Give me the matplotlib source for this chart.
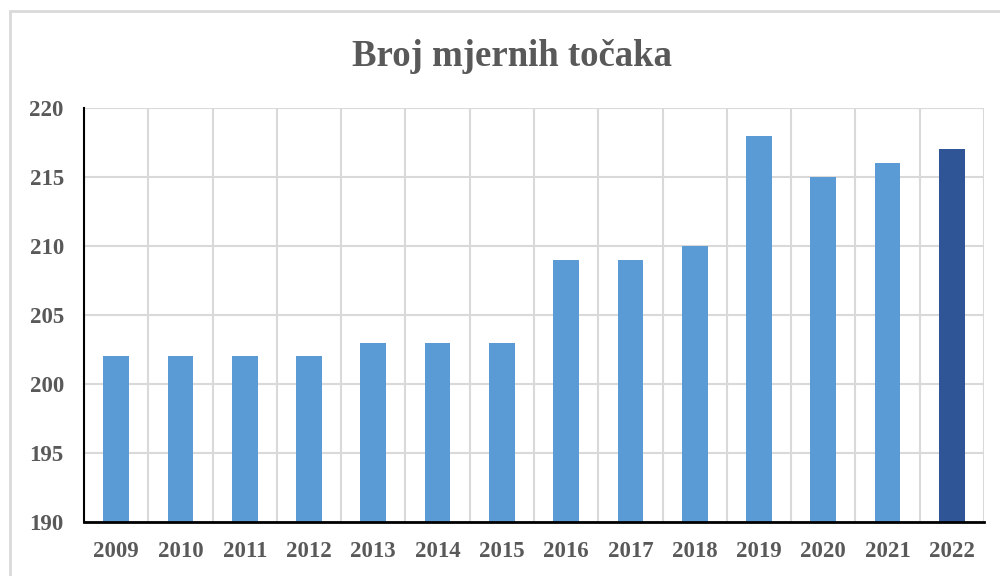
import matplotlib.pyplot as plt
from matplotlib.patches import Rectangle

years = ['2009', '2010', '2011', '2012', '2013', '2014', '2015',
         '2016', '2017', '2018', '2019', '2020', '2021', '2022']
counts = [202, 202, 202, 202, 203, 203, 203, 209, 209, 210, 218, 215, 216, 217]
colors = ['#5B9BD5'] * 13 + ['#2F5597']

serif = ['Liberation Serif', 'DejaVu Serif']
grey = '#595959'

fig = plt.figure(figsize=(10, 5.76), dpi=100)
fig.patches.append(Rectangle((0.010, -0.1), 1.1, 1.081, transform=fig.transFigure,
                             fill=False, edgecolor='#D9D9D9', linewidth=2))

ax = fig.add_axes([0.084, 0.0938, 0.9, 0.7187])
x = list(range(len(years)))
ax.bar(x, [c - 190 for c in counts], bottom=190, width=0.4, color=colors, zorder=3)

ax.set_xlim(-0.5, len(years) - 0.5)
ax.set_ylim(190, 220)
ax.set_yticks(range(190, 221, 5))
ax.set_xticks(x)
ax.set_xticklabels(years)
ax.set_xticks([i + 0.5 for i in range(-1, len(years))], minor=True)

ax.grid(True, axis='y', which='major', color='#D9D9D9', linewidth=1.5, zorder=0)
ax.grid(True, axis='x', which='minor', color='#D9D9D9', linewidth=1.5, zorder=0)
ax.tick_params(which='both', length=0)
ax.tick_params(axis='x', pad=14)
ax.tick_params(axis='y', pad=14.5)

for lbl in ax.get_xticklabels() + ax.get_yticklabels():
    lbl.set_family(serif)
    lbl.set_fontweight('bold')
    lbl.set_fontsize(16.5)
    lbl.set_color(grey)

for s in ['top', 'right']:
    ax.spines[s].set_visible(False)
ax.spines['left'].set_color('black')
ax.spines['left'].set_linewidth(1.5)
ax.spines['bottom'].set_color('black')
ax.spines['bottom'].set_linewidth(2)
ax.spines['left'].set_zorder(4)
ax.spines['bottom'].set_zorder(4)

fig.text(0.512, 0.902, 'Broj mjernih točaka', ha='center', va='center',
         family=serif, fontweight='bold', fontsize=26.5, color=grey)

fig.savefig('out.png', dpi=100)
